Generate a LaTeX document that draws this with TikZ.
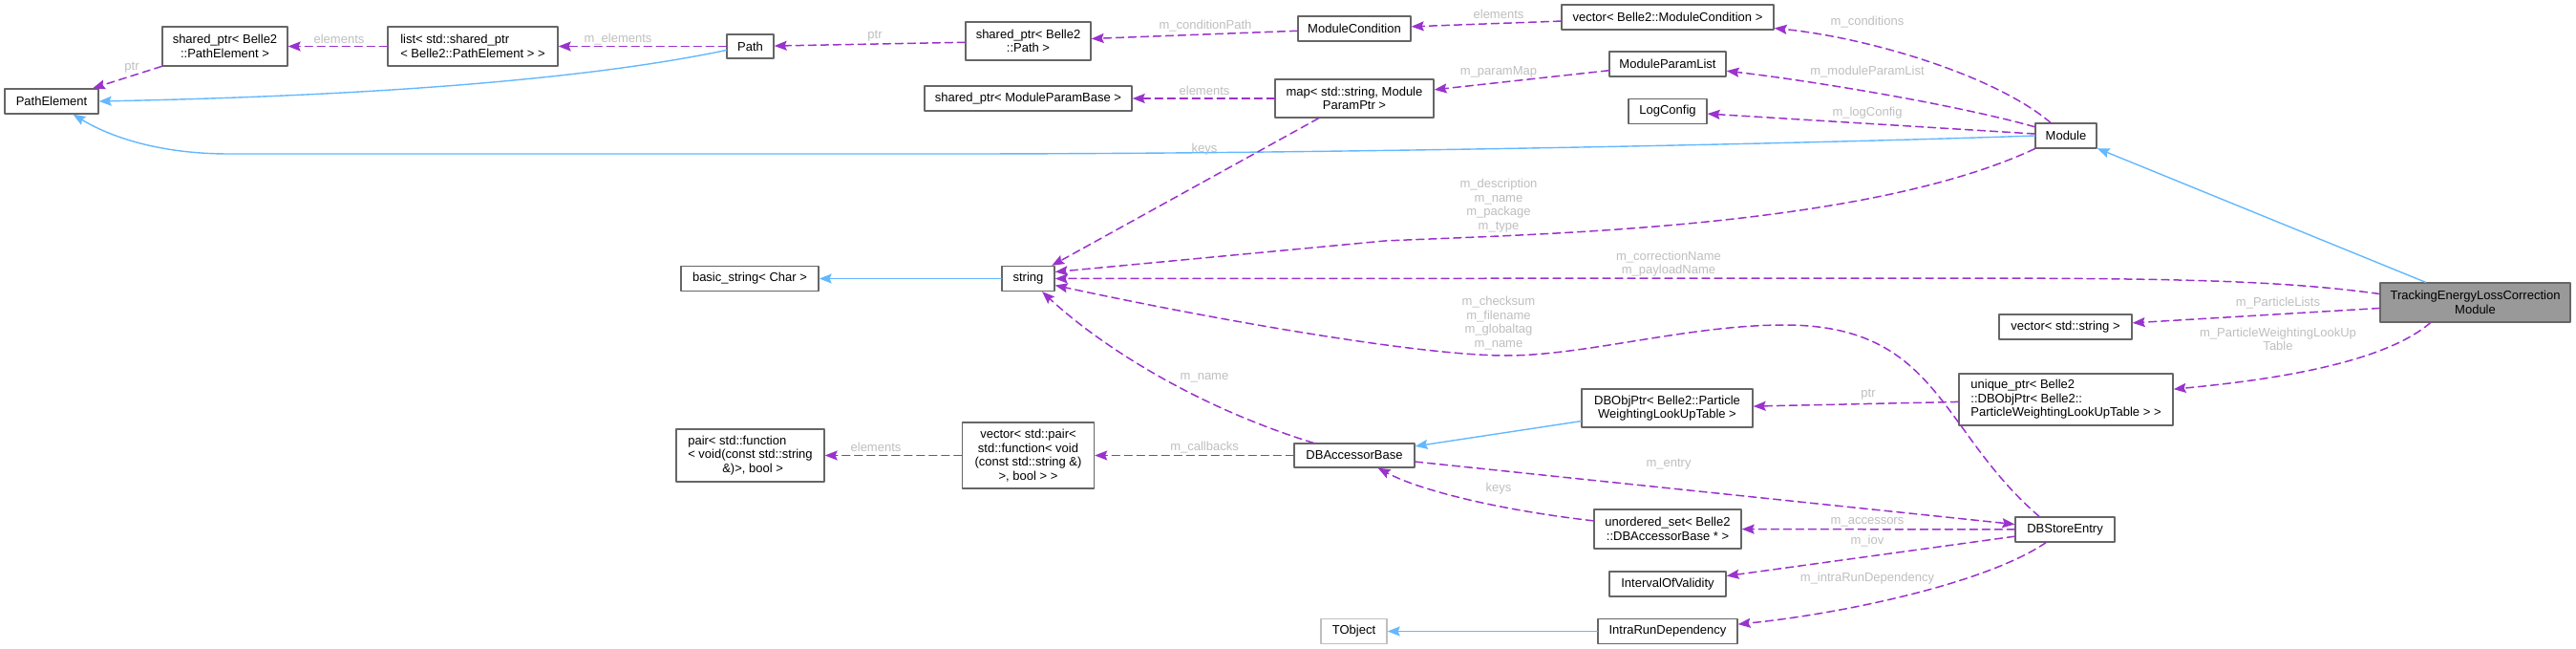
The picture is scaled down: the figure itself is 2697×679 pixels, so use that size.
\documentclass[tikz,border=0pt]{standalone}
\usepackage{fontspec}
\setmainfont{Liberation Sans}
\usepackage{tikz}
\usetikzlibrary{arrows.meta}
\definecolor{boxgray}{HTML}{666666}
\definecolor{inhblue}{HTML}{63B8FF}
\definecolor{usepurple}{HTML}{9A32CD}
\definecolor{labgray}{HTML}{BEBEBE}
\definecolor{selgray}{HTML}{999999}
\definecolor{extgray}{HTML}{BFBFBF}

\begin{document}
\begin{tikzpicture}[line cap=round,line join=round,>={Stealth[length=13pt,width=10pt,inset=2pt]},x=1pt,y=-1pt,
    box/.style={draw=boxgray,line width=1.3pt,fill=white,inner sep=0pt,align=center,font=\fontsize{13}{14.5}\selectfont},
    inh/.style={->,draw=inhblue,line width=1.4pt},
    use/.style={->,draw=usepurple,line width=1.5pt,dash pattern=on 8pt off 5pt},
    lab/.style={text=labgray,inner sep=0pt,align=center,font=\fontsize{13}{14.5}\selectfont}]
        \useasboundingbox (0,0) rectangle (2697,679);
        \node[box,minimum width=98pt,minimum height=26pt] (pe) at (54,106) {PathElement};
        \node[box,minimum width=131pt,minimum height=41pt] (sppe) at (235.5,48.5) {shared\_ptr< Belle2\\::PathElement >};
        \node[box,minimum width=178pt,minimum height=41pt,align=left] (list) at (495,48.5) {list< std::shared\_ptr\\< Belle2::PathElement > >};
        \node[box,minimum width=49pt,minimum height=25pt] (path) at (785.5,48.5) {Path};
        \node[box,minimum width=131pt,minimum height=40pt] (sppath) at (1076.5,43) {shared\_ptr< Belle2\\::Path >};
        \node[box,minimum width=118pt,minimum height=26pt] (mcond) at (1418,30) {ModuleCondition};
        \node[box,minimum width=222pt,minimum height=26pt] (vmcond) at (1746,18) {vector< Belle2::ModuleCondition >};
        \node[box,minimum width=122pt,minimum height=26pt] (mplist) at (1746,67) {ModuleParamList};
        \node[box,minimum width=217pt,minimum height=26pt] (spmpb) at (1076.5,103) {shared\_ptr< ModuleParamBase >};
        \node[box,minimum width=166pt,minimum height=40pt] (pmap) at (1418,103) {map< std::string, Module\\ParamPtr >};
        \node[box,minimum width=82pt,minimum height=26pt] (logcfg) at (1746,116.5) {LogConfig};
        \node[box,minimum width=64pt,minimum height=26pt] (module) at (2163,142) {Module};
        \node[box,minimum width=144pt,minimum height=26pt] (bstr) at (785,291.5) {basic\_string< Char >};
        \node[box,minimum width=55pt,minimum height=26pt] (str) at (1076.5,291.5) {string};
        \node[box,fill=selgray,minimum width=199pt,minimum height=41pt] (telcm) at (2591.5,316.5) {TrackingEnergyLossCorrection\\Module};
        \node[box,minimum width=139pt,minimum height=26pt] (vstr) at (2162.5,342) {vector< std::string >};
        \node[box,minimum width=224pt,minimum height=54pt,align=left] (uptr) at (2163,418) {unique\_ptr< Belle2\\::DBObjPtr< Belle2::\\ParticleWeightingLookUpTable > >};
        \node[box,minimum width=179pt,minimum height=40pt] (dbobj) at (1745.5,427) {DBObjPtr< Belle2::Particle\\WeightingLookUpTable >};
        \node[box,minimum width=138pt,minimum height=69pt] (vpair) at (1076.5,476.5) {vector< std::pair<\\std::function< void\\(const std::string \&)\\>, bool > >};
        \node[box,minimum width=155pt,minimum height=55pt,align=left] (fpair) at (785.5,476.5) {pair< std::function\\< void(const std::string\\\hspace*{36pt}\&)>, bool >};
        \node[box,minimum width=126pt,minimum height=25pt] (dbab) at (1418,476.5) {DBAccessorBase};
        \node[box,minimum width=154pt,minimum height=41pt] (uset) at (1746,553.5) {unordered\_set< Belle2\\::DBAccessorBase * >};
        \node[box,minimum width=122pt,minimum height=26pt] (iov) at (1746,611) {IntervalOfValidity};
        \node[box,minimum width=146pt,minimum height=26pt] (ird) at (1746,660.5) {IntraRunDependency};
        \node[box,draw=extgray,minimum width=69pt,minimum height=26pt] (tobj) at (1417.5,660.5) {TObject};
        \node[box,minimum width=104pt,minimum height=26pt] (dbse) at (2162,554) {DBStoreEntry};
        \draw[inh] ([yshift=-4pt]path.west) .. controls (620,82) and (400,100) .. (pe.east);
        \draw[inh] (module.west) .. controls (1900,150) and (1400,161) .. (1000,161) -- (240,161) .. controls (160,161) and (110,140) .. (pe);
        \draw[inh] (telcm) -- (module);
        \draw[inh] (str) -- (bstr);
        \draw[inh] (dbobj) -- (dbab);
        \draw[inh] (ird) -- (tobj);
        \draw[use] (sppe) -- (pe);
        \draw[use] (list) -- (sppe);
        \draw[use] (path) -- (list);
        \draw[use] (sppath) -- (path);
        \draw[use] (mcond) -- (sppath);
        \draw[use] (vmcond) -- (mcond);
        \draw[use] (module) .. controls (2090,80) and (1960,40) .. (vmcond);
        \draw[use] (module) .. controls (2050,110) and (1900,85) .. (mplist);
        \draw[use] (module) -- (logcfg);
        \draw[use] (mplist) -- (pmap);
        \draw[use] (pmap) -- (spmpb);
        \draw[use] (pmap) -- (str);
        \draw[use] (module.south west) .. controls (1950,240) and (1600,245) .. (1450,252) -- ([yshift=7pt]str.east);
        \draw[use] ([yshift=9pt]telcm.west) .. controls (2380,292) and (2250,291) .. (2000,291) -- (str.east);
        \draw[use] (telcm) -- (vstr);
        \draw[use] ([xshift=-47pt]telcm.south) .. controls (2490,385) and (2350,400) .. (uptr);
        \draw[use] (uptr) -- (dbobj);
        \draw[use] (dbab) .. controls (1250,425) and (1150,360) .. (str);
        \draw[use] ([xshift=-27pt]dbse.north) .. controls (2030,450) and (2030,340) .. (1868,340) .. controls (1768,340) and (1660,372) .. (1577,372) .. controls (1480,372) and (1250,330) .. ([yshift=-7pt]str.east);
        \draw[use] (dbab) -- (vpair);
        \draw[use] (vpair) -- (fpair);
        \draw[use] (dbab) -- (dbse);
        \draw[use] (dbse) -- (uset);
        \draw[use] (uset) .. controls (1580,535) and (1490,515) .. (dbab);
        \draw[use] (dbse) -- (iov);
        \draw[use] (dbse) .. controls (2080,610) and (1930,642) .. (ird);
        \node[lab] (lptra) at (138,71) {ptr};
        \node[lab] (lelema) at (355,41) {elements};
        \node[lab] (lmelem) at (647,41) {m\_elements};
        \node[lab] (lptrb) at (916,38) {ptr};
        \node[lab] (lcpath) at (1262,27) {m\_conditionPath};
        \node[lab] (lelemb) at (1569,15) {elements};
        \node[lab] (lcond) at (1955,23) {m\_conditions};
        \node[lab] (lmpl) at (1955,75) {m\_moduleParamList};
        \node[lab] (llog) at (1955,118) {m\_logConfig};
        \node[lab] (lpmap) at (1569,75) {m\_paramMap};
        \node[lab] (lelemc) at (1261,95) {elements};
        \node[lab] (lkeysa) at (1261,156) {keys};
        \node[lab] (ldesc) at (1569,215) {m\_description\\m\_name\\m\_package\\m\_type};
        \node[lab] (lcorr) at (1747,276) {m\_correctionName\\m\_payloadName};
        \node[lab] (lcheck) at (1569,338) {m\_checksum\\m\_filename\\m\_globaltag\\m\_name};
        \node[lab] (lname) at (1261,395) {m\_name};
        \node[lab] (lplist) at (2385,317) {m\_ParticleLists};
        \node[lab] (lpwlut) at (2385,355) {m\_ParticleWeightingLookUp\\Table};
        \node[lab] (lptrc) at (1956,413) {ptr};
        \node[lab] (leleme) at (917,468) {elements};
        \node[lab] (lcall) at (1261,468) {m\_callbacks};
        \node[lab] (lentry) at (1747,486) {m\_entry};
        \node[lab] (lkeysb) at (1569,511) {keys};
        \node[lab] (lacc) at (1955,546) {m\_accessors};
        \node[lab] (liov) at (1955,566) {m\_iov};
        \node[lab] (lird) at (1955,605) {m\_intraRunDependency};
    \end{tikzpicture}
\end{document}
